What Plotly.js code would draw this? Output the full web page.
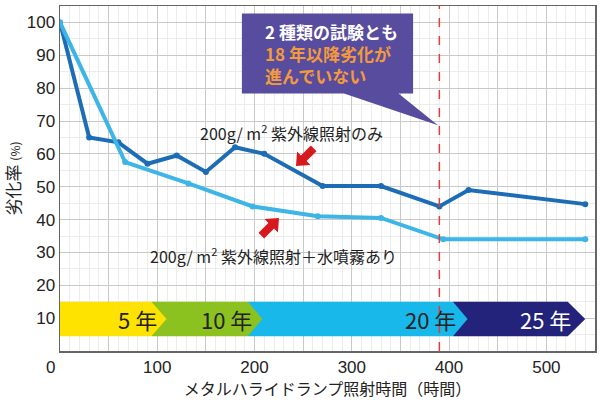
<!DOCTYPE html>
<html><head><meta charset="utf-8">
<script src="https://cdn.plot.ly/plotly-3.0.1.min.js"></script>
<style>html,body{margin:0;padding:0;background:#fff}#c{width:600px;height:400px}</style>
</head><body><div id="c"></div>
<script>
// Data
const hoursUV = [0, 30, 60, 90, 120, 150, 180, 210, 270, 330, 390, 420, 540];
const rateUV = [100, 65, 63.5, 57, 59.5, 54.5, 62, 60, 50.2, 50.2, 44, 49, 44.7];
const hoursUVWater = [0, 67, 132, 198, 265, 330, 394, 540];
const rateUVWater = [100, 57.5, 51, 44, 41, 40.5, 34, 34];
const nameUV = '200g/ m<sup>2</sup> 紫外線照射のみ';
const nameUVWater = '200g/ m<sup>2</sup> 紫外線照射＋水噴霧あり';
const xTickVals = [0, 50, 100, 150, 200, 250, 300, 350, 400, 450, 500, 550];
const xTickText = ['', '', '100', '', '200', '', '300', '', '400', '', '500', ''];
const yTickVals = [0, 10, 20, 30, 40, 50, 60, 70, 80, 90, 100];
const yTickText = ['', '10', '20', '30', '40', '50', '60', '70', '80', '90', '100'];
const yearLabels = ['5 年', '10 年', '20 年', '25 年'];
const yearLabelX = [80, 171, 381, 499];
const bandStart = [0, 94, 193, 404];
const bandEnd = [94, 193, 404, 522];
const bandTip = [109.5, 208, 419, 540];
const bandColors = ['#FFE300', '#8CC21F', '#19B8EA', '#23237B'];
const yearTextColors = ['#222', '#222', '#222', '#fff'];
const markerHour = 390;
const calloutLines = ['2 種類の試験とも', '18 年以降劣化が', '進んでいない'];

const JP = '"Noto Sans CJK JP", "Noto Sans", sans-serif';
const NUM = '"Liberation Sans Narrow", "Liberation Sans", Arial, sans-serif';

const X_RANGE = [0, 550], Y_RANGE = [0, 105];
const M = {l: 60, r: 5, t: 6, b: 49};
const PW = 600 - M.l - M.r, PH = 400 - M.t - M.b;
const px2x = sx => (sx - M.l) / PW * (X_RANGE[1] - X_RANGE[0]) + X_RANGE[0];
const px2y = sy => (M.t + PH - sy) / PH * (Y_RANGE[1] - Y_RANGE[0]) + Y_RANGE[0];

const traces = [
  {x: hoursUV, y: rateUV, mode: 'lines+markers', line: {color: '#1C6DB6', width: 4}, marker: {size: 6, color: '#1C6DB6'}, hoverinfo: 'skip'},
  {x: hoursUVWater, y: rateUVWater, mode: 'lines+markers', line: {color: '#3DB5E6', width: 4}, marker: {size: 6, color: '#3DB5E6'}, hoverinfo: 'skip'}
];

const bandLo = 4.5, bandHi = 15, bandMid = (bandLo + bandHi) / 2;
const shapes = [];
for (let i = bandStart.length - 1; i >= 0; i--) {
  shapes.push({type: 'path', xref: 'x', yref: 'y', layer: 'above',
    path: `M ${bandStart[i]},${bandLo} L ${bandEnd[i]},${bandLo} L ${bandTip[i]},${bandMid} L ${bandEnd[i]},${bandHi} L ${bandStart[i]},${bandHi} Z`,
    fillcolor: bandColors[i], line: {width: 0}});
}
shapes.push({type: 'line', xref: 'x', yref: 'paper', x0: markerHour, x1: markerHour, y0: 0, y1: 1,
  line: {color: '#E23B3B', width: 1.5, dash: 'dash'}, layer: 'above'});
// callout box with tail
shapes.push({type: 'path', xref: 'x', yref: 'y', layer: 'above',
  path: 'M 187,102.7 L 363,102.7 L 363,78.4 L 348,78.4 L 388.5,68.7 L 292,78.4 L 187,78.4 Z',
  fillcolor: '#574C9E', line: {width: 0}});

// block arrows (tip in pixels, direction toward tail)
function blockArrow(tx, ty, dx, dy) {
  const L = Math.hypot(dx, dy); dx /= L; dy /= L;
  const nx = -dy, ny = dx;
  const pts = [[0, 0], [11, 9.5], [11, 4], [25, 4], [25, -4], [11, -4], [11, -9.5]];
  const p = pts.map(([u, v]) => {
    const sx = tx + u * dx + v * nx, sy = ty + u * dy + v * ny;
    return `${px2x(sx).toFixed(3)},${px2y(sy).toFixed(3)}`;
  });
  return {type: 'path', xref: 'x', yref: 'y', layer: 'above', path: 'M ' + p.join(' L ') + ' Z',
    fillcolor: '#D7191F', line: {width: 0}};
}
shapes.push(blockArrow(296, 166, 1, -1));
shapes.push(blockArrow(279, 218, -1, 1));

const annotations = [];
yearLabels.forEach((t, i) => annotations.push({x: yearLabelX[i], y: bandMid, xref: 'x', yref: 'y', text: t, showarrow: false,
  font: {family: JP, size: 22, color: yearTextColors[i]}}));
annotations.push({x: 208.5, y: 90.6, xref: 'x', yref: 'y', xanchor: 'left', align: 'left', showarrow: false,
  text: `<span style="color:#ffffff">${calloutLines[0]}</span><br><span style="color:#F49A3C">${calloutLines[1]}</span><br><span style="color:#F49A3C">${calloutLines[2]}</span>`,
  font: {family: JP, size: 17, weight: 'bold', color: '#fff'}});
annotations.push({x: 141.8, y: 66.6, xref: 'x', yref: 'y', xanchor: 'left', text: nameUV, showarrow: false,
  font: {family: JP, size: 16, color: '#222'}});
annotations.push({x: 90.4, y: 29.2, xref: 'x', yref: 'y', xanchor: 'left', text: nameUVWater, showarrow: false,
  font: {family: JP, size: 16, color: '#222'}});
annotations.push({x: 0, y: 0, xref: 'paper', yref: 'paper', xanchor: 'center', yanchor: 'middle',
  xshift: -10, yshift: -16, text: '0', showarrow: false,
  font: {family: NUM, size: 17, color: '#222'}});

const layout = {
  width: 600, height: 400,
  margin: M,
  paper_bgcolor: '#fff', plot_bgcolor: '#fff',
  showlegend: false,
  xaxis: {range: X_RANGE, tickmode: 'array', tickvals: xTickVals, ticktext: xTickText,
    showgrid: true, gridcolor: '#c9c9c9', gridwidth: 1,
    minor: {dtick: 10, tick0: 0, showgrid: true, gridcolor: '#ececec', gridwidth: 1},
    showline: true, linecolor: '#666', linewidth: 1.5, mirror: true, zeroline: false, ticks: '',
    tickfont: {family: NUM, size: 17, color: '#222'},
    title: {text: 'メタルハライドランプ照射時間（時間）', font: {family: JP, size: 16, color: '#222'}, standoff: 4}},
  yaxis: {range: Y_RANGE, tickmode: 'array', tickvals: yTickVals, ticktext: yTickText,
    showgrid: true, gridcolor: '#c9c9c9', gridwidth: 1,
    minor: {dtick: 5, tick0: 0, showgrid: true, gridcolor: '#ececec', gridwidth: 1},
    showline: true, linecolor: '#666', linewidth: 1.5, mirror: true, zeroline: false, ticks: '',
    tickfont: {family: NUM, size: 17, color: '#222'},
    title: {text: '劣化率 <span style="font-size:12px">(%)</span>', font: {family: JP, size: 17, color: '#222'}, standoff: 4}},
  shapes: shapes,
  annotations: annotations
};
Plotly.newPlot('c', traces, layout, {staticPlot: true, displayModeBar: false});
</script></body></html>
